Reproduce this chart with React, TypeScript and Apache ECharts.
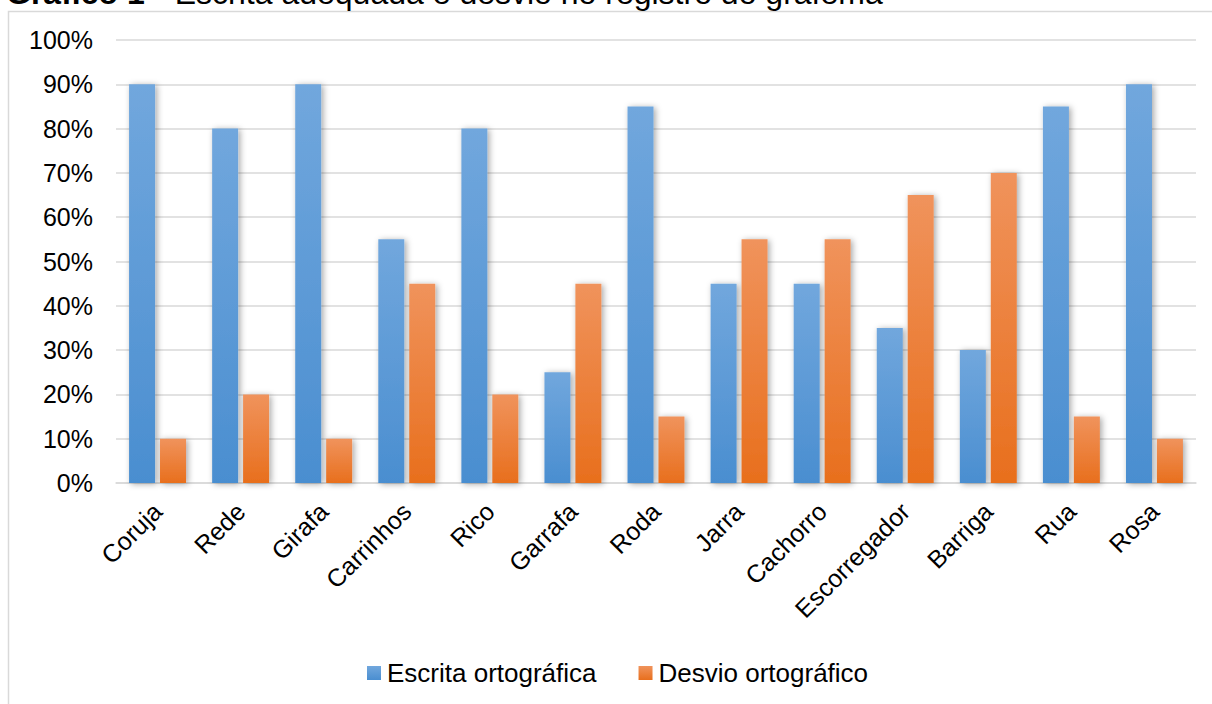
import React, { useEffect, useRef } from "react";
import * as echarts from "echarts";

const categories = ["Coruja", "Rede", "Girafa", "Carrinhos", "Rico", "Garrafa", "Roda", "Jarra", "Cachorro", "Escorregador", "Barriga", "Rua", "Rosa"];
const escrita = [90, 80, 90, 55, 80, 25, 85, 45, 45, 35, 30, 85, 90];
const desvio = [10, 20, 10, 45, 20, 45, 15, 55, 55, 65, 70, 15, 10];
const seriesNames = ["Escrita ortográfica", "Desvio ortográfico"];

const FONT = "'Liberation Sans', Arial, sans-serif";

const grad = (top: string, bottom: string) =>
  new echarts.graphic.LinearGradient(0, 0, 0, 1, [
    { offset: 0, color: top },
    { offset: 1, color: bottom },
  ]);

export default function App() {
  const ref = useRef<HTMLDivElement>(null);
  useEffect(() => {
    if (!ref.current) return;
    const chart = echarts.init(ref.current, undefined, { renderer: "svg" });
    const shadow = {
      shadowBlur: 6,
      shadowColor: "rgba(0,0,0,0.35)",
      shadowOffsetX: 2,
      shadowOffsetY: 1,
    };
    chart.setOption({
      animation: false,
      backgroundColor: "#ffffff",
      graphic: [
        {
          type: "rect",
          shape: { x: 8.5, y: 11.5, width: 1400, height: 900 },
          style: { fill: "none", stroke: "#d9d9d9", lineWidth: 1.5 },
          z: -1,
        },
        {
          type: "text",
          x: 6,
          y: 9,
          style: {
            text: "{b|Gráfico 1} {n|– Escrita adequada e desvio no registro do grafema}",
            rich: {
              b: { fontFamily: FONT, fontSize: 32, fontWeight: "bold", fill: "#000" },
              n: { fontFamily: FONT, fontSize: 32, fill: "#000" },
            },
            verticalAlign: "bottom",
            fill: "#000",
          },
        },
      ],
      grid: { left: 116, right: 16, top: 40, bottom: 221, containLabel: false },
      legend: {
        data: seriesNames,
        top: 655,
        left: 362,
        itemWidth: 14,
        itemHeight: 14,
        itemGap: 42,
        icon: "rect",
        textStyle: { fontFamily: FONT, fontSize: 26, color: "#000", padding: [0, 0, 0, 1] },
      },
      xAxis: {
        type: "category",
        data: categories,
        axisLine: { lineStyle: { color: "#d9d9d9", width: 1.5 } },
        axisTick: { show: false },
        axisLabel: {
          rotate: 45,
          interval: 0,
          margin: 24,
          fontFamily: FONT,
          fontSize: 25,
          color: "#000",
        },
      },
      yAxis: {
        type: "value",
        min: 0,
        max: 100,
        interval: 10,
        axisLine: { show: false },
        axisTick: { show: false },
        axisLabel: {
          formatter: "{value}%",
          fontFamily: FONT,
          fontSize: 25,
          color: "#000",
          margin: 23,
        },
        splitLine: { lineStyle: { color: "#d9d9d9", width: 1.5 } },
      },
      series: [
        {
          name: seriesNames[0],
          type: "bar",
          data: escrita,
          barWidth: 26,
          barGap: "19%",
          itemStyle: { color: grad("#71a7dd", "#4a8ed0"), ...shadow },
        },
        {
          name: seriesNames[1],
          type: "bar",
          data: desvio,
          barWidth: 26,
          itemStyle: { color: grad("#f0935c", "#e86f1d"), ...shadow },
        },
      ],
    });
    return () => chart.dispose();
  }, []);
  return (
    <div
      ref={ref}
      style={{ position: "fixed", left: 0, top: 0, width: 1212, height: 704 }}
    />
  );
}
